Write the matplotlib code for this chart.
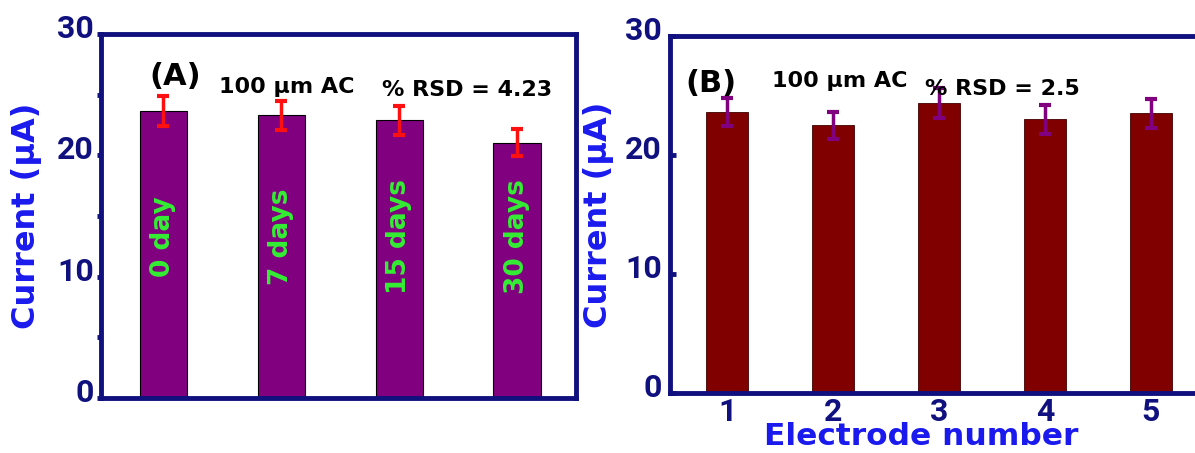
import matplotlib
matplotlib.use("Agg")
import matplotlib.pyplot as plt
import matplotlib.transforms as mtransforms
from matplotlib.font_manager import FontProperties
import numpy as np

# panel A: storage stability
days = ["0 day", "7 days", "15 days", "30 days"]
current_a = [23.65, 23.3, 22.9, 21.05]
err_a = [1.2, 1.2, 1.2, 1.1]

# panel B: reproducibility
electrodes = [1, 2, 3, 4, 5]
current_b = [23.6, 22.5, 24.4, 23.0, 23.5]
err_b = [1.2, 1.15, 1.25, 1.2, 1.2]

navy = "#10107e"
blue = "#1a1aee"
tick_fp = FontProperties(family="Roboto", weight="bold", size=23)

fig = plt.figure(figsize=(11.95, 4.53), dpi=100)
ax1 = fig.add_axes([0.0845, 0.1214, 0.3975, 0.8036])
ax2 = fig.add_axes([0.5607, 0.1325, 0.4502, 0.7880])

# ---- (A)
x_a = np.arange(1, len(days) + 1)
ax1.bar(x_a, current_a, width=0.4, color="#800080", edgecolor="black", linewidth=0.8)
ax1.errorbar(x_a, current_a, yerr=err_a, fmt="none", ecolor="#ff1010",
             elinewidth=2.5, capsize=4.5, capthick=3)
for xi, lab in zip(x_a, days):
    ax1.text(xi, 13.3, lab, rotation=90, ha="center", va="center",
             color="#33ee33", fontsize=19, fontweight="bold")
ax1.set_xlim(0.47, 4.5)
ax1.set_xticks([])
ax1.set_yticks([5, 15, 25], minor=True)
ax1.tick_params(axis="y", which="both", direction="out", length=3, width=3.5,
                color=navy, pad=2)
ax1.yaxis.set_label_coords(-0.125, 0.52)
ax1.text(1.1, 26.5, "(A)", fontsize=22, fontweight="bold", ha="center", va="center")
ax1.text(2.05, 25.6, "100 µm AC", fontsize=16, fontweight="bold", ha="center", va="center")
ax1.text(3.58, 25.4, "% RSD = 4.23", fontsize=16, fontweight="bold", ha="center", va="center")

# ---- (B)
ax2.bar(electrodes, current_b, width=0.4, color="#800000", edgecolor="#400000", linewidth=0.6)
ax2.errorbar(electrodes, current_b, yerr=err_b, fmt="none", ecolor="#800080",
             elinewidth=2.5, capsize=4.5, capthick=3)
ax2.set_xlim(0.46, 5.54)
ax2.set_xticks(electrodes)
ax2.tick_params(axis="y", direction="in", length=4, width=3.5, color=navy, pad=6)
ax2.tick_params(axis="x", length=0, pad=3)
ax2.set_xlabel("Electrode number", color=blue, fontsize=22.5, fontweight="bold",
               fontfamily="DejaVu Sans", va="top")
ax2.xaxis.set_label_coords(0.4665, -0.08)
ax2.yaxis.set_label_coords(-0.105, 0.51)
ax2.text(0.85, 26.05, "(B)", fontsize=22, fontweight="bold", ha="center", va="center")
ax2.text(2.06, 26.2, "100 µm AC", fontsize=16, fontweight="bold", ha="center", va="center")
ax2.text(3.6, 25.55, "% RSD = 2.5", fontsize=16, fontweight="bold", ha="center", va="center")

# shared styling, done after tick_params so the label tweaks stick
shift_up = mtransforms.ScaledTranslation(0, 0.08, fig.dpi_scale_trans)
for ax in (ax1, ax2):
    for s in ax.spines.values():
        s.set_color(navy)
        s.set_linewidth(3.5)
    ax.set_ylim(0, 30)
    ax.set_yticks([0, 10, 20, 30])
    ax.set_ylabel("Current (µA)", color=blue, fontsize=23, fontweight="bold",
                  fontfamily="DejaVu Sans")
    for lab in ax.get_yticklabels():
        lab.set_fontproperties(tick_fp)
        lab.set_color(navy)
        lab.set_transform(lab.get_transform() + shift_up)
for lab in ax2.get_xticklabels():
    lab.set_fontproperties(tick_fp)
    lab.set_color(navy)

fig.savefig("out.png", dpi=100)
